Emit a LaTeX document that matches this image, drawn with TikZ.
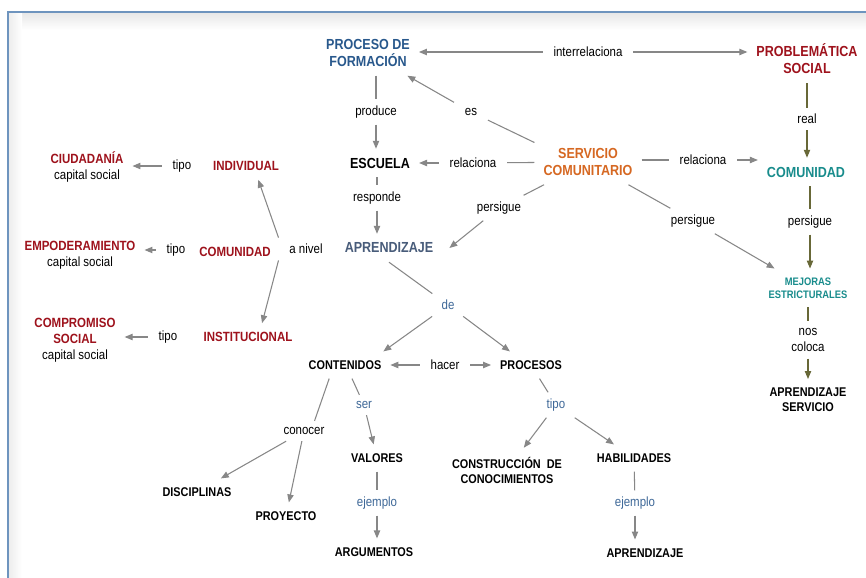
\documentclass[tikz,border=0pt]{standalone}
\usepackage{fontspec}
\setmainfont{Liberation Sans}[FakeStretch=0.86]
\usetikzlibrary{arrows.meta}
\definecolor{azulproc}{RGB}{40,88,140}
\definecolor{azulapr}{RGB}{72,92,122}
\definecolor{rojo}{RGB}{158,18,28}
\definecolor{naranja}{RGB}{214,104,34}
\definecolor{verdeazul}{RGB}{24,140,140}
\definecolor{azulenl}{RGB}{62,104,152}
\definecolor{gris}{RGB}{135,135,135}
\definecolor{oliva}{RGB}{104,104,56}
\definecolor{marco}{RGB}{110,148,190}

\begin{document}
\begin{tikzpicture}[x=0.02cm,y=-0.02cm,>={Triangle[length=4.5pt,width=3.6pt]},
    enlace/.style={font=\fontsize{7.6}{9.6}\selectfont,align=center,inner xsep=6pt,inner ysep=3.5pt},
    enlaceazul/.style={enlace,text=azulenl},
    concepto/.style={font=\bfseries\fontsize{8.3}{9.6}\selectfont,align=center,inner sep=5pt},
    nivelrojo/.style={font=\bfseries\fontsize{7.6}{9.2}\selectfont,align=center,inner sep=5pt,text=rojo},
    hoja/.style={font=\bfseries\fontsize{7.2}{8.5}\selectfont,align=center,inner sep=5pt},
    linea/.style={draw=gris,line width=0.6pt},
    flecha/.style={linea,->},
    lineaol/.style={linea,draw=oliva},
    flechaol/.style={flecha,draw=oliva}]
  \useasboundingbox[fill=white] (0,0) rectangle (866,578);
  % marco
  \shade[top color=black!9,bottom color=white] (9,13) rectangle (866,30);
  \shade[left color=black!7,right color=white] (9,13) rectangle (22,578);
  \draw[marco,line width=0.8pt] (8,578) -- (8,12) -- (866,12);

  % conceptos de arriba
  \node[concepto,text=azulproc] (proceso) at (368,53) {PROCESO DE\\FORMACIÓN};
  \node[enlace] (interrel) at (588,52) {interrelaciona};
  \node[concepto,text=rojo] (problema) at (807,59) {PROBLEMÁTICA\\SOCIAL};
  \node[enlace] (produce) at (376,112) {produce};
  \node[enlace] (es) at (471,112) {es};
  \node[concepto,text=naranja] (servicio) at (588,162) {SERVICIO\\COMUNITARIO};
  \node[concepto] (escuela) at (380,163) {ESCUELA};
  \node[enlace] (relac1) at (473,163) {relaciona};
  \node[enlace] (relac2) at (703,160) {relaciona};
  \node[enlace] (real) at (807,119) {real};
  \node[concepto,text=verdeazul] (comunidad) at (806,172) {COMUNIDAD};
  \node[enlace] (persig1) at (810,222) {persigue};
  \node[enlace] (persig2) at (693,221) {persigue};
  \node[enlace] (persig3) at (499,208) {persigue};
  \node[concepto,text=verdeazul,font=\bfseries\fontsize{6.2}{7.4}\selectfont] (mejoras) at (808,288) {MEJORAS\\ESTRICTURALES};
  \node[enlace] (nos) at (808,340) {nos\\coloca};
  \node[hoja] (apserv) at (808,400) {APRENDIZAJE\\SERVICIO};
  \node[enlace] (responde) at (377,198) {responde};
  \node[concepto,text=azulapr] (aprend) at (389,248) {APRENDIZAJE};

  % niveles
  \node[enlace] (anivel) at (306,249) {a nivel};
  \node[nivelrojo] (individual) at (246,166) {INDIVIDUAL};
  \node[nivelrojo] (comred) at (235,252) {COMUNIDAD};
  \node[nivelrojo] (institucional) at (248,337) {INSTITUCIONAL};
  \node[enlace] (tipo1) at (182,166) {tipo};
  \node[enlace] (tipo2) at (176,250) {tipo};
  \node[enlace] (tipo3) at (168,337) {tipo};
  \node[nivelrojo] (ciudadania) at (87,167) {CIUDADANÍA\\{\mdseries\color{black}capital social}};
  \node[nivelrojo] (empoder) at (80,255) {EMPODERAMIENTO\\{\mdseries\color{black}capital social}};
  \node[nivelrojo] (compromiso) at (75,340) {COMPROMISO\\SOCIAL\\{\mdseries\color{black}capital social}};

  % contenidos y procesos
  \node[enlaceazul] (de) at (448,305) {de};
  \node[hoja] (contenidos) at (345,365) {CONTENIDOS};
  \node[enlace] (hacer) at (445,365) {hacer};
  \node[hoja] (procesos) at (531,365) {PROCESOS};
  \node[enlaceazul] (tipo4) at (556,405) {tipo};
  \node[hoja] (construccion) at (507,470) {CONSTRUCCIÓN~ DE\\CONOCIMIENTOS};
  \node[hoja] (habilidades) at (634,458) {HABILIDADES};
  \node[enlaceazul] (ejemplo2) at (635,503) {ejemplo};
  \node[hoja] (aprend2) at (645,553) {APRENDIZAJE};
  \node[enlaceazul] (ser) at (364,405) {ser};
  \node[hoja] (valores) at (377,458) {VALORES};
  \node[enlaceazul] (ejemplo1) at (377,503) {ejemplo};
  \node[hoja] (argumentos) at (374,552) {ARGUMENTOS};
  \node[enlace] (conocer) at (304,431) {conocer};
  \node[hoja] (disciplinas) at (197,492) {DISCIPLINAS};
  \node[hoja] (proyecto) at (286,516) {PROYECTO};

  % conectores
  \draw[flecha] (interrel) -- (interrel -| proceso.east);
  \draw[flecha] (interrel) -- (interrel -| problema.west);
  \draw[linea] (produce |- proceso.south) -- (produce);
  \draw[flecha] (produce) -- (produce |- escuela.north);
  \draw[flecha] (es) -- (proceso.-30);
  \draw[linea] (servicio.160) -- (es);
  \draw[linea] (servicio) -- (relac1);
  \draw[flecha] (relac1) -- (escuela);
  \draw[linea] (servicio.east |- relac2) -- (relac2);
  \draw[flecha] (relac2) -- (relac2 -| comunidad.west);
  \draw[lineaol] (real |- problema.south) -- (real);
  \draw[flechaol] (real) -- (real |- comunidad.north);
  \draw[lineaol] (persig1 |- comunidad.south) -- (persig1);
  \draw[flechaol] (persig1) -- (persig1 |- mejoras.north);
  \draw[linea] (servicio) -- (persig2);
  \draw[flecha] (persig2) -- (mejoras);
  \draw[linea] (servicio) -- (persig3);
  \draw[flecha] (persig3) -- ([xshift=4pt]aprend.east);
  \draw[lineaol] (nos |- mejoras.south) -- (nos);
  \draw[flechaol] (nos) -- (nos |- apserv.north);
  \draw[linea] (responde |- escuela.south) -- (responde);
  \draw[flecha] (responde) -- (responde |- aprend.north);
  \draw[flecha] (anivel.north west) -- ([xshift=7pt]individual.south);
  \draw[flecha] (anivel.south west) -- ([xshift=8pt]institucional.north);
  \draw[flecha] (tipo1) -- (tipo1 -| ciudadania.east);
  \draw[flecha] (tipo2) -- (tipo2 -| empoder.east);
  \draw[flecha] (tipo3) -- (tipo3 -| compromiso.east);
  \draw[linea] (aprend.south) -- (de);
  \draw[flecha] (de) -- ([xshift=-4pt]contenidos.north east);
  \draw[flecha] (de) -- ([xshift=-12pt]procesos.north);
  \draw[flecha] (hacer) -- (contenidos);
  \draw[flecha] (hacer) -- (procesos);
  \draw[linea] ([xshift=4pt]contenidos.south) -- (ser);
  \draw[flecha] (ser) -- (valores);
  \draw[linea] ([xshift=-9pt]contenidos.south) -- ([xshift=6pt]conocer.north);
  \draw[flecha] (conocer) -- (disciplinas);
  \draw[flecha] (conocer) -- (proyecto);
  \draw[linea] (procesos) -- (tipo4);
  \draw[flecha] (tipo4) -- (construccion);
  \draw[flecha] (tipo4) -- (habilidades);
  \draw[linea] (valores) -- (ejemplo1);
  \draw[flecha] (ejemplo1) -- (ejemplo1 |- argumentos.north);
  \draw[linea] (habilidades) -- (ejemplo2);
  \draw[flecha] (ejemplo2) -- (ejemplo2 |- aprend2.north);
\end{tikzpicture}
\end{document}
